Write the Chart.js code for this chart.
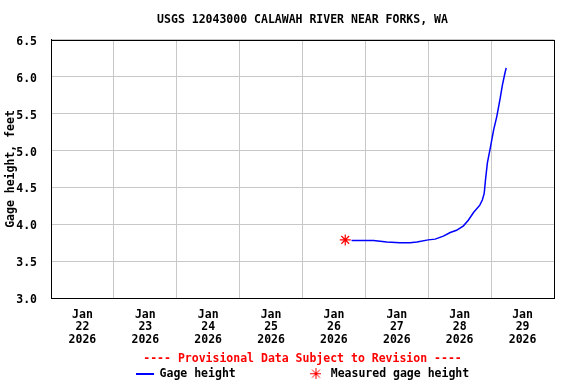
<!DOCTYPE html>
<html><head><meta charset="utf-8">
<script src="https://cdn.jsdelivr.net/npm/chart.js@4"></script>
<style>html,body{margin:0;padding:0;background:#fff}#wrap{width:576px;height:384px}</style>
</head><body><div id="wrap"><canvas id="c" width="576" height="384"></canvas></div>
<script>
const titleText = 'USGS 12043000 CALAWAH RIVER NEAR FORKS, WA';
const yAxisTitle = 'Gage height, feet';
const provisionalText = '---- Provisional Data Subject to Revision ----';
const seriesNames = ['Gage height', 'Measured gage height'];
const monthLabel = 'Jan';
const yearLabel = '2026';
const dayLabels = ['22', '23', '24', '25', '26', '27', '28', '29'];
// time in days after Jan 22 2026 00:00
const gageDays = [4.78, 4.95, 5.13, 5.34, 5.55, 5.71, 5.82, 6.00, 6.11, 6.24, 6.35, 6.45, 6.56, 6.64, 6.72, 6.82, 6.86, 6.89, 6.91, 6.94, 6.99, 7.04, 7.09, 7.14, 7.18, 7.22, 7.24];
const gageFeet = [3.78, 3.78, 3.78, 3.76, 3.75, 3.75, 3.76, 3.79, 3.80, 3.84, 3.89, 3.92, 3.98, 4.06, 4.16, 4.26, 4.33, 4.42, 4.60, 4.83, 5.05, 5.28, 5.46, 5.69, 5.89, 6.05, 6.12];
const measuredDays = [4.68];
const measuredFeet = [3.79];
const yMin = 3.0, yMax = 6.5, yStep = 0.5;

const FONT = {family: 'DejaVu Sans Mono', size: 11.5, weight: 'bold'};
Chart.defaults.font = FONT;
Chart.defaults.color = '#000';

function makeIcon(w, h, draw) {
  const c = document.createElement('canvas');
  c.width = w; c.height = h;
  draw(c.getContext('2d'));
  return c;
}
const lineIcon = makeIcon(18, 2, g => { g.fillStyle = '#0000ff'; g.fillRect(0, 0, 18, 2); });
const starIcon = makeIcon(11, 11, g => {
  g.strokeStyle = '#ff0000'; g.lineWidth = 1;
  g.beginPath();
  g.moveTo(0, 5.5); g.lineTo(11, 5.5);
  g.moveTo(5.5, 0); g.lineTo(5.5, 11);
  g.moveTo(1.5, 1.5); g.lineTo(9.5, 9.5);
  g.moveTo(9.5, 1.5); g.lineTo(1.5, 9.5);
  g.stroke();
});

const frame = {
  id: 'frame',
  afterDraw(chart) {
    const {ctx, chartArea: a} = chart;
    ctx.save();
    ctx.strokeStyle = '#000';
    ctx.lineWidth = 1;
    ctx.strokeRect(Math.round(a.left) + 0.5, Math.round(a.top) + 0.5, Math.round(a.right - a.left), Math.round(a.bottom - a.top));
    ctx.restore();
  }
};

new Chart(document.getElementById('c'), {
  type: 'line',
  data: {
    datasets: [
      {
        label: seriesNames[0],
        data: gageDays.map((d, i) => ({x: d, y: gageFeet[i]})),
        borderColor: '#0000ff', borderWidth: 1.5, pointRadius: 0, tension: 0, fill: false
      },
      {
        label: seriesNames[1],
        data: measuredDays.map((d, i) => ({x: d, y: measuredFeet[i]})),
        showLine: false, pointStyle: 'star', pointRadius: 5.5,
        borderColor: '#ff0000', backgroundColor: '#ff0000', pointBorderWidth: 1.2
      }
    ]
  },
  options: {
    responsive: false, animation: false, devicePixelRatio: 1,
    layout: {padding: {left: 0, right: 22, top: 0, bottom: 0}},
    plugins: {
      title: {display: true, text: titleText, fullSize: false, color: '#000', font: FONT, padding: {top: 13, bottom: 13}},
      subtitle: {display: true, text: provisionalText, position: 'bottom', fullSize: false, weight: 500, color: '#ff0000', font: FONT, padding: {top: 4, bottom: 0}},
      legend: {
        position: 'bottom', fullSize: false, maxHeight: 18,
        labels: {
          usePointStyle: true, pointStyleWidth: 18, padding: 2, font: FONT, color: '#000',
          generateLabels: () => [
            {text: seriesNames[0] + '          ', pointStyle: lineIcon, fillStyle: '#0000ff', strokeStyle: '#0000ff', lineWidth: 0, datasetIndex: 0},
            {text: seriesNames[1], pointStyle: starIcon, fillStyle: '#ff0000', strokeStyle: '#ff0000', lineWidth: 0, datasetIndex: 1}
          ]
        }
      },
      tooltip: {enabled: false}
    },
    scales: {
      x: {
        type: 'linear', min: 0, max: dayLabels.length,
        afterBuildTicks: s => { const t = []; for (let v = 0; v <= dayLabels.length; v += 0.5) t.push({value: v}); s.ticks = t; },
        afterFit: s => { s.height = 50; },
        ticks: {
          autoSkip: false, maxRotation: 0, minRotation: 0, padding: 10,
          font: {family: FONT.family, size: 11.5, weight: 'bold', lineHeight: 1.1},
          callback: v => (v % 1 === 0.5) ? [monthLabel, dayLabels[Math.floor(v)], yearLabel] : ''
        },
        grid: {
          drawTicks: false,
          color: c => (c.tick && Number.isInteger(c.tick.value)) ? '#c8c8c8' : 'rgba(0,0,0,0)'
        },
        border: {color: '#000', width: 1}
      },
      y: {
        min: yMin, max: yMax,
        afterFit: s => { s.width = 51; },
        ticks: {stepSize: yStep, padding: 14, labelOffset: 2, callback: v => Number(v).toFixed(1)},
        grid: {drawTicks: false, color: '#c8c8c8'},
        border: {color: '#000', width: 1},
        title: {display: true, text: yAxisTitle, font: FONT, color: '#000', padding: {top: 4, bottom: 0}}
      }
    }
  },
  plugins: [frame]
});
</script>
</body></html>
